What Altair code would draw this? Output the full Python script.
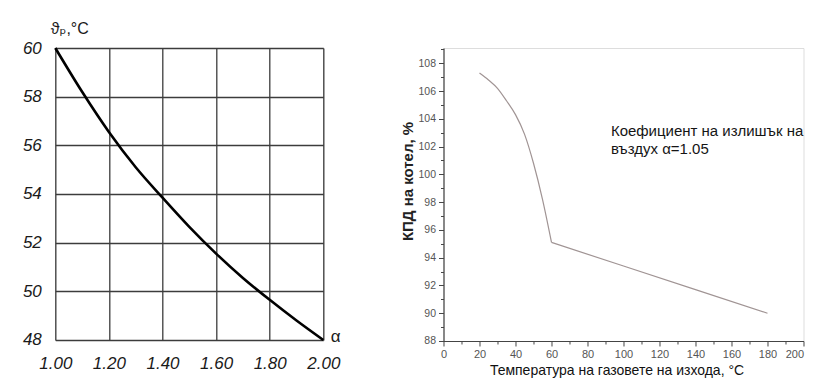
import altair as alt
import pandas as pd

# ---------- data ----------
alpha = [1.0, 1.1, 1.2, 1.3, 1.4, 1.5, 1.6, 1.7, 1.8, 1.9, 2.0]
theta = [60.0, 58.2, 56.55, 55.1, 53.85, 52.65, 51.55, 50.55, 49.65, 48.8, 48.0]
left_x_ticks = [1.0, 1.2, 1.4, 1.6, 1.8, 2.0]
left_y_ticks = [48, 50, 52, 54, 56, 58, 60]

temp_curve = [20, 25, 30, 35, 40, 45, 50, 55, 60]
eff_curve = [107.3, 106.8, 106.2, 105.3, 104.3, 102.9, 100.8, 98.2, 95.1]
temp_line = [60, 100, 140, 180]
eff_line = [95.1, 93.4, 91.7, 90.0]
right_x_ticks = list(range(0, 201, 10))
right_y_ticks = list(range(88, 110, 1))
note_text = ["Коефициент на излишък на\nвъздух α=1.05"]
note_temp = [93.0]
note_eff = [103.1]

FONT = "Liberation Sans, Arial, DejaVu Sans"
DARK = "#1a1a1a"

# ---------- left panel ----------
left_df = pd.DataFrame({"alpha": alpha, "theta": theta})
left = alt.Chart(left_df).mark_line(
    color="#000000", strokeWidth=2.6, interpolate="monotone"
).encode(
    x=alt.X(
        "alpha:Q",
        scale=alt.Scale(domain=[1.0, 2.0], nice=False, zero=False),
        axis=alt.Axis(
            values=left_x_ticks, format=".2f", title="α",
            titleX=275, titleY=-3, titleAlign="left", titleBaseline="middle",
            titleFont=FONT, titleFontSize=17, titleFontWeight="normal", titleColor=DARK,
            grid=True, gridColor="#3c3c3c", gridWidth=1.3, gridOpacity=1,
            domain=False, ticks=False, tickSize=0,
            labelFont=FONT, labelFontSize=17, labelFontStyle="italic", labelColor=DARK,
            labelPadding=16, labelFlush=False, labelOverlap=False,
        ),
    ),
    y=alt.Y(
        "theta:Q",
        scale=alt.Scale(domain=[48, 60], nice=False, zero=False),
        axis=alt.Axis(
            values=left_y_ticks, format="d", title="ϑₚ,°C",
            titleAngle=0, titleX=-5, titleY=-20, titleAlign="left", titleBaseline="middle",
            titleFont=FONT, titleFontSize=16, titleFontWeight="normal", titleColor=DARK,
            grid=True, gridColor="#3c3c3c", gridWidth=1.3, gridOpacity=1,
            domain=False, ticks=False, tickSize=0,
            labelFont=FONT, labelFontSize=17, labelFontStyle="italic", labelColor=DARK,
            labelPadding=14, labelOverlap=False,
        ),
    ),
).properties(width=268, height=292)

# ---------- right panel ----------
curve_df = pd.DataFrame({"temp": temp_curve, "eff": eff_curve})
line_df = pd.DataFrame({"temp": temp_line, "eff": eff_line})
note_df = pd.DataFrame({"temp": note_temp, "eff": note_eff, "t": note_text})

xr = alt.X(
    "temp:Q",
    scale=alt.Scale(domain=[0, 200], nice=False, zero=False),
    axis=alt.Axis(
        values=right_x_ticks,
        labelExpr="datum.value % 20 == 0 ? datum.label : ''",
        title="Температура на газовете на изхода, °C",
        titleX=173, titleY=29.5, titleAlign="center", titleBaseline="middle",
        titleFont=FONT, titleFontSize=14, titleFontWeight="normal", titleColor="#111111",
        grid=False, domainColor="#444444", domainWidth=1.2,
        tickColor="#444444",
        tickSize=alt.condition("datum.value % 20 == 0", alt.value(5), alt.value(3)),
        labelFont=FONT, labelFontSize=11, labelColor="#555555", labelPadding=3,
        labelAlign=alt.condition("datum.value == 200", alt.value("right"), alt.value("center")),
        labelFlush=False, labelOverlap=False,
    ),
)
yr = alt.Y(
    "eff:Q",
    scale=alt.Scale(domain=[88, 109.1], nice=False, zero=False),
    axis=alt.Axis(
        values=right_y_ticks,
        labelExpr="datum.value % 2 == 0 ? datum.label : ''",
        title="КПД на котел, %",
        titleX=-36, titleY=133, titleAlign="center", titleBaseline="middle",
        titleFont=FONT, titleFontSize=15, titleFontWeight="bold", titleColor="#222222",
        grid=False, domainColor="#444444", domainWidth=1.2,
        tickColor="#444444",
        tickSize=alt.condition("datum.value % 2 == 0", alt.value(5), alt.value(3)),
        labelFont=FONT, labelFontSize=10.5, labelColor="#555555", labelPadding=3,
        labelOverlap=False,
    ),
)

r_curve = alt.Chart(curve_df).mark_line(
    color="#a09494", strokeWidth=1.2, interpolate="monotone"
).encode(x=xr, y=yr)
r_line = alt.Chart(line_df).mark_line(
    color="#a09494", strokeWidth=1.2
).encode(x=xr, y=yr)
r_note = alt.Chart(note_df).mark_text(
    align="left", baseline="middle", lineBreak="\n", lineHeight=18,
    font=FONT, fontSize=15, color="#151515",
).encode(x=xr, y=yr, text="t:N")

right = alt.layer(r_curve, r_line, r_note).properties(width=360, height=293)

chart = alt.hconcat(left, right, spacing=58.2).properties(
    padding={"left": 13.3, "top": 11, "right": 0, "bottom": 0}
).configure_view(stroke="transparent").configure(background="white")

chart.save("out.html", embed_options={"renderer": "svg", "actions": False})
